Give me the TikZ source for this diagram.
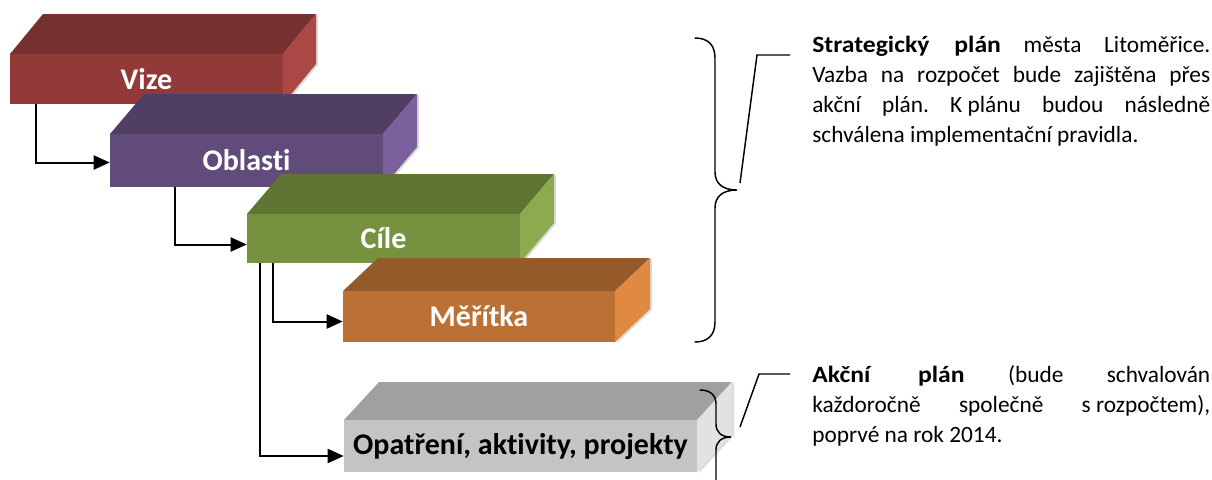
\documentclass[tikz,border=0pt]{standalone}
\usepackage{fontspec}
\setmainfont{Carlito}[Ligatures=NoCommon]
\usetikzlibrary{calc,fit,arrows.meta}
\AtBeginDocument{\frenchspacing}
\definecolor{vizeT}{RGB}{118,48,46}
\definecolor{vizeF}{RGB}{146,58,56}
\definecolor{vizeR}{RGB}{170,72,70}
\definecolor{oblT}{RGB}{80,62,100}
\definecolor{oblF}{RGB}{96,75,122}
\definecolor{oblR}{RGB}{123,96,158}
\definecolor{cileT}{RGB}{96,117,52}
\definecolor{cileF}{RGB}{119,146,63}
\definecolor{cileR}{RGB}{139,171,78}
\definecolor{merT}{RGB}{149,90,42}
\definecolor{merF}{RGB}{188,113,52}
\definecolor{merR}{RGB}{225,136,65}
\definecolor{opaT}{RGB}{160,160,160}
\definecolor{opaF}{RGB}{196,196,196}
\definecolor{opaR}{RGB}{226,226,226}
\newcommand{\widebf}[1]{\textbf{\addfontfeatures{FakeStretch=1.1}#1}}
\tikzset{
  conn/.style={line width=1.5pt, -{Triangle[length=12pt,width=10.5pt]}},
  brace/.style={line width=1.1pt, line cap=round},
  leader/.style={line width=1.1pt},
  lbl/.style={font=\fontsize{22.5}{26}\selectfont\bfseries, inner sep=0pt},
  note/.style={text width=298.5pt, align=justify, inner sep=0pt,
    font=\fontsize{17.5}{22.5}\selectfont},
  halo/.style={black!14}
}
% #1 name, #2 x1, #3 y1, #4 x2, #5 y2, #6 dx, #7 dy, #8 colour prefix, #9 label
\newcommand{\drawslab}[9]{%
  \fill[halo] (#4,#3) -- ({#4+#6+2},{#3-#7}) -- ({#4+#6+2},{#5-#7+1}) -- ({#4+2},{#5+1}) -- cycle;
  \fill[#8T] (#2,#3) -- ({#2+#6},{#3-#7}) -- ({#4+#6},{#3-#7}) -- (#4,#3) -- cycle;
  \fill[#8R] (#4,#3) -- ({#4+#6},{#3-#7}) -- ({#4+#6},{#5-#7}) -- (#4,#5) -- cycle;
  \node[fit={(#2,#3)(#4,#5)}, inner sep=0pt, fill=#8F] (#1) {};
  \node[lbl] (#1-l) at (#1.center) {#9};
}
\begin{document}
\begin{tikzpicture}[x=0.75pt,y=-0.75pt]
\useasboundingbox (0,0) rectangle (1212,479);
\fill[white] (0,0) rectangle (1212,479);

\drawslab{vize}{10}{54}{283}{104}{33}{40}{vize}{\color{white}Vize}
\drawslab{obl}{110}{134}{383}{187}{34}{40}{obl}{\color{white}Oblasti}
\drawslab{cile}{247}{214}{520}{263}{34}{40}{cile}{\color{white}Cíle}
\drawslab{mer}{343}{291}{615}{342}{35}{33}{mer}{\color{white}Měřítka}
\drawslab{opa}{344}{420}{697}{472}{35}{38}{opa}{\color{black}Opatření, aktivity, projekty}

\draw[conn] ($(vize.south west)+(26,0)$) |- ($(obl.west)+(0,2)$);
\draw[conn] ($(obl.south west)+(65,0)$) |- ($(cile.west)+(0,6)$);
\draw[conn] ($(cile.south west)+(26,0)$) |- ($(mer.west)+(0,5)$);
\draw[conn] ($(cile.south west)+(13,0)$) |- ($(opa.west)+(0,10)$);

% big brace
\coordinate (b1tip) at (737,190);
\draw[brace] (695,38) .. controls (708,38) and (715,45) .. (715,58) -- (715,172)
  .. controls (715,183) and (722,190) .. (b1tip)
  .. controls (722,190) and (715,197) .. (715,208) -- (715,322)
  .. controls (715,335) and (708,342) .. (695,342);
% small brace
\coordinate (b2tip) at (731,437);
\draw[brace] (700,390) .. controls (710,390) and (716,395) .. (716,404) -- (716,424)
  .. controls (716,432) and (721,437) .. (b2tip)
  .. controls (721,437) and (716,442) .. (716,450) -- (716,484)
  .. controls (716,493) and (710,498) .. (700,498);

\node[note, anchor=base west] (t1) at (812,52) {\widebf{Strategický plán} města Litoměřice.\linebreak Vazba na rozpočet bude zajištěna přes\linebreak akční plán. \mbox{K plánu} budou následně\linebreak schválena implementační pravidla.};
\node[note, anchor=base west] (t2) at (812,382) {\widebf{Akční plán} (bude schvalován\linebreak každoročně společně \mbox{s rozpočtem),}\linebreak poprvé na rok 2014.};

\coordinate (l1a) at (740,183);
\coordinate (l1b) at (757,55);
\coordinate (l1c) at (790,55);
\draw[leader] (l1a) -- (l1b) -- (l1c);
\coordinate (l2a) at (740,427);
\coordinate (l2b) at (759,374);
\coordinate (l2c) at (790,374);
\draw[leader] (l2a) -- (l2b) -- (l2c);
\end{tikzpicture}
\end{document}
